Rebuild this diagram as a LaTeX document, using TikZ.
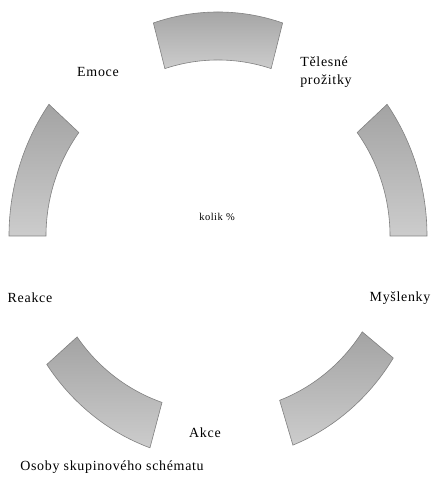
\documentclass[tikz,border=0pt]{standalone}
\usepackage{fontspec}
\setmainfont{Liberation Serif}[LetterSpace=5.0]
\usepackage{tikz}
\usetikzlibrary{positioning}

\begin{document}
\begin{tikzpicture}[
    x=1bp, y=1bp,
    seg/.style={draw=black!50, line width=0.6bp, shading angle=40,
        top color=black!36, middle color=black!47, bottom color=black!20},
    lbl/.style={font=\fontsize{14}{18}\selectfont, inner sep=1bp},
    small/.style={font=\fontsize{10.5}{12}\selectfont, inner sep=1bp}
]
    \useasboundingbox (0,0) rectangle (435,485);
    \coordinate (c) at (218,249);

    % Ring segments (five around the centre)
    \foreach \a in {90,18,-51,-127,162} {
        \shade[seg, shift={(c)}]
            (\a-18:172bp and 176bp)
            arc[start angle=\a-18, end angle=\a+18, x radius=172bp, y radius=176bp]
            -- (\a+18:209bp and 224bp)
            arc[start angle=\a+18, end angle=\a-18, x radius=209bp, y radius=224bp]
            -- cycle;
    }

    % Labels
    \node[small] (pct) at (217,268) {kolik \%};
    \node[lbl] (emo) at (98,413) {Emoce};
    \node[lbl, align=left] (tel) at (326,413) {Tělesné\\prožitky};
    \node[lbl] (mys) at (400,187) {Myšlenky};
    \node[lbl] (rea) at (30,187) {Reakce};
    \node[lbl] (akc) at (205,52) {Akce};
    \node[lbl] (oso) at (112,18) {Osoby skupinového schématu};
\end{tikzpicture}
\end{document}
